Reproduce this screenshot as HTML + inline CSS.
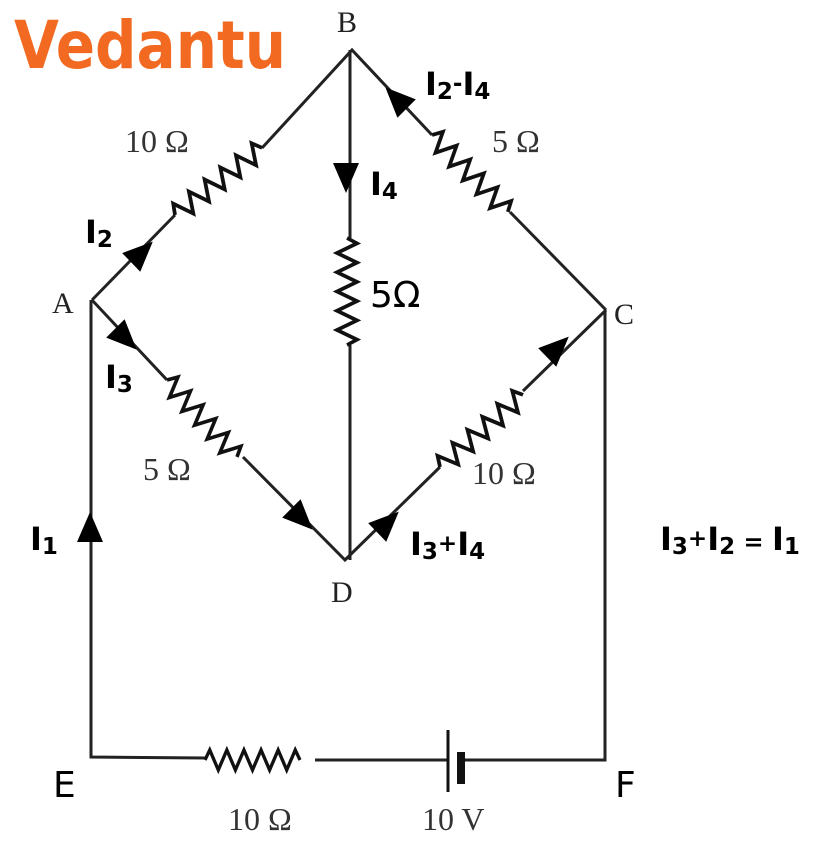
<!DOCTYPE html>
<html><head><meta charset="utf-8"><style>
html,body{margin:0;padding:0;background:#fff;}
svg{display:block;}
.w{stroke:#222;stroke-width:3;fill:none;}
.z{stroke:#111;stroke-width:3.5;fill:none;stroke-linejoin:miter;}
.s{font-family:"Liberation Serif",serif;fill:#333;font-size:32px;}
.n{font-family:"Liberation Serif",serif;fill:#222;font-size:30px;}
.b{font-family:"DejaVu Sans","Liberation Sans",sans-serif;font-weight:bold;fill:#000;font-size:32px;}
.l{font-family:"DejaVu Sans","Liberation Sans",sans-serif;fill:#000;font-size:36px;}
</style></head><body>
<svg width="815" height="848" viewBox="0 0 815 848" xmlns="http://www.w3.org/2000/svg">
<defs>
<polyline id="r" points="0,0 5,-10 14,10 23,-10 32,10 41,-10 50,10 59,-10 68,10 77,-10 86,10 95,-10 100,0"/>
</defs>
<text x="14" y="68" font-family="DejaVu Sans,sans-serif" font-weight="bold" font-size="66" fill="#f26a21" textLength="272" lengthAdjust="spacingAndGlyphs">Vedantu</text>
<!-- wires -->
<path class="w" d="M92,300 L175,215 M262,148 L352,50 L432,135 M510,212 L606,310 M92,300 L167,380 M243,457 L345,560 L440,467 M523,391 L606,310 M350,50 L350,238 M350,345 L350,560 M91,300 L91,757 L205,758 M315,760 L448,760 M465,760 L605,760 L605,310"/>
<!-- resistors -->
<use href="#r" class="z" transform="translate(175,215) rotate(-37.6) scale(1.1,1)"/>
<use href="#r" class="z" transform="translate(432,135) rotate(45.4) scale(1.08,1)"/>
<use href="#r" class="z" transform="translate(167,380) rotate(47.7) scale(1.04,1)"/>
<use href="#r" class="z" transform="translate(440,467) rotate(-41) scale(1.1,1)"/>
<use href="#r" class="z" transform="translate(347,238) rotate(90) scale(1.07,1)"/>
<use href="#r" class="z" transform="translate(205,760) scale(0.95,1)"/>
<!-- battery -->
<line x1="448" y1="730" x2="448" y2="792" stroke="#111" stroke-width="3"/>
<rect x="457" y="752" width="8" height="32" fill="#111"/>
<!-- arrows -->
<g fill="#000">
<polygon points="15,0 -15,-13 -15,13" transform="translate(142,252) rotate(-44)"/>
<polygon points="15,0 -15,-13 -15,13" transform="translate(396,98) rotate(-135)"/>
<polygon points="15,0 -15,-13 -15,13" transform="translate(346,178) rotate(90)"/>
<polygon points="15,0 -15,-13 -15,13" transform="translate(126,339) rotate(45)"/>
<polygon points="15,0 -15,-13 -15,13" transform="translate(302,519) rotate(45)"/>
<polygon points="15,0 -15,-13 -15,13" transform="translate(388,522) rotate(-44)"/>
<polygon points="15,0 -15,-13 -15,13" transform="translate(558,347) rotate(-44)"/>
<polygon points="15,0 -15,-13 -15,13" transform="translate(90,527) rotate(-90)"/>
</g>
<!-- node labels -->
<text class="n" x="337" y="32">B</text>
<text class="n" x="52" y="313">A</text>
<text class="n" x="614" y="324">C</text>
<text class="n" x="331" y="602">D</text>
<text class="l" x="53" y="797">E</text>
<text class="l" x="615" y="797">F</text>
<!-- resistor labels -->
<text class="s" x="125" y="152">10 Ω</text>
<text class="s" x="492" y="152">5 Ω</text>
<text class="s" x="143" y="480">5 Ω</text>
<text class="s" x="472" y="484">10 Ω</text>
<text class="s" x="228" y="830">10 Ω</text>
<text class="s" x="422" y="830">10 V</text>
<text class="l" x="370" y="307">5Ω</text>
<!-- current labels -->
<text class="b" x="425" y="95">I<tspan font-size="23" dy="4">2</tspan><tspan dy="-8" font-size="23">-</tspan><tspan dy="4">I</tspan><tspan font-size="23" dy="4">4</tspan></text>
<text class="b" x="370" y="195">I<tspan font-size="23" dy="4">4</tspan></text>
<text class="b" x="85" y="243">I<tspan font-size="23" dy="4">2</tspan></text>
<text class="b" x="105" y="388">I<tspan font-size="23" dy="4">3</tspan></text>
<text class="b" x="30" y="550">I<tspan font-size="23" dy="4">1</tspan></text>
<text class="b" x="410" y="555">I<tspan font-size="23" dy="4">3</tspan><tspan font-size="23" dy="-8">+</tspan><tspan dy="4">I</tspan><tspan font-size="23" dy="4">4</tspan></text>
<text class="b" x="660" y="550">I<tspan font-size="23" dy="4">3</tspan><tspan font-size="23" dy="-8">+</tspan><tspan dy="4">I</tspan><tspan font-size="23" dy="4">2</tspan><tspan dy="-4" font-size="24"> = </tspan><tspan>I</tspan><tspan font-size="23" dy="4">1</tspan></text>
</svg>
</body></html>
